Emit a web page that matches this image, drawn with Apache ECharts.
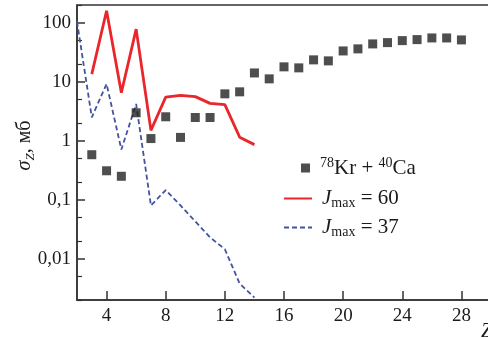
<!DOCTYPE html>
<html><head><meta charset="utf-8">
<script src="https://cdn.jsdelivr.net/npm/echarts@6/dist/echarts.min.js"></script>
<style>html,body{margin:0;padding:0;background:#fff}#c{width:488px;height:339px}</style>
</head><body><div id="c"></div>
<script>
// Experimental points: 78Kr + 40Ca
const zExp = [3,4,5,6,7,8,9,10,11,12,13,14,15,16,17,18,19,20,21,22,23,24,25,26,27,28];
const sigmaExp = [0.58,0.31,0.25,2.98,1.09,2.55,1.14,2.48,2.48,6.24,6.75,14.1,11.2,17.9,17.2,23.5,22.6,33.3,36.1,43.8,46.1,49.8,51.8,55.3,55.3,51.2];
// Calculation, J_max = 60
const zJ60 = [3,4,5,6,7,8,9,10,11,12,13,14];
const sigmaJ60 = [13.5,160,6.5,78,1.5,5.5,5.9,5.6,4.3,4.1,1.15,0.86];
// Calculation, J_max = 37
const zJ37 = [2,3,4,5,6,7,8,9,10,11,12,13,14];
const sigmaJ37 = [105,2.5,9.2,0.71,4.2,0.08,0.146,0.08,0.043,0.023,0.0145,0.0038,0.0022];
// Axis ticks
const xTicks = [4,8,12,16,20,24,28];
const yTicks = [0.01,0.1,1,10,100];
const yMinorTicks = [0.002,0.005,0.02,0.05,0.2,0.5,2,5,20,50,200];

const serif = '"Liberation Serif", "DejaVu Serif", serif';
const ink = '#1a1a1a';
const red = '#e8262b';
const blue = '#4353a0';

const pairs = (xs, ys) => xs.map((x, i) => [x, ys[i]]);

const mkRich = (fs) => ({
  n: {fontFamily: serif, fontSize: fs, color: ink, lineHeight: 24},
  i: {fontFamily: serif, fontSize: fs, fontStyle: 'italic', color: ink, lineHeight: 24},
  sup: {fontFamily: serif, fontSize: 14, color: ink, lineHeight: 14, verticalAlign: 'top'},
  sub: {fontFamily: serif, fontSize: 14, color: ink, lineHeight: 12, verticalAlign: 'bottom'},
  isub: {fontFamily: serif, fontSize: 13, fontStyle: 'italic', color: ink, lineHeight: 12, verticalAlign: 'bottom'}
});
const richAxis = mkRich(20);
const richLeg = mkRich(21);

const chart = echarts.init(document.getElementById('c'), null, {renderer: 'canvas'});
chart.setOption({
  animation: false,
  backgroundColor: '#fff',
  grid: {left: 77, right: -3, top: 5, bottom: 39, outerBoundsMode: 'none', containLabel: false,
    show: true, borderColor: '#333', borderWidth: 1.5, backgroundColor: 'transparent'},
  xAxis: {
    type: 'value', min: 2, max: 30,
    name: 'Z', nameLocation: 'end', nameGap: -10, nameMoveOverlap: false,
    nameTextStyle: {fontFamily: serif, fontSize: 20, fontStyle: 'italic', color: ink, verticalAlign: 'top', padding: [22, 0, 0, 0]},
    axisLine: {show: true, lineStyle: {color: '#333', width: 1.5}},
    axisTick: {show: true, inside: true, length: 9, customValues: xTicks, lineStyle: {color: '#333', width: 1.5}},
    axisLabel: {customValues: xTicks, margin: 7, fontFamily: serif, fontSize: 19, color: ink},
    splitLine: {show: false}
  },
  yAxis: [{
    type: 'log', logBase: 10, min: 0.002, max: 200,
    name: '{i|σ}{isub|Z}{n|, мб}', nameLocation: 'middle', nameGap: 40, nameMoveOverlap: false,
    nameTextStyle: {rich: richAxis, padding: [0, 0, 0, 14]},
    axisLine: {show: true, lineStyle: {color: '#333', width: 1.5}},
    axisTick: {show: true, inside: true, length: 8, customValues: yTicks, lineStyle: {color: '#333', width: 1.5}},
    axisLabel: {customValues: yTicks, margin: 6, fontFamily: serif, fontSize: 19, color: ink,
      formatter: v => String(v).replace('.', ',')},
    splitLine: {show: false}
  }, {
    type: 'log', logBase: 10, min: 0.002, max: 200, position: 'left',
    axisLine: {show: false},
    axisTick: {show: true, inside: true, length: 5, customValues: yMinorTicks, lineStyle: {color: '#333', width: 1.2}},
    axisLabel: {show: false},
    splitLine: {show: false}
  }],
  legend: [{
    data: ['exp'], left: 301, top: 156, itemWidth: 9, itemHeight: 9, padding: 0,
    formatter: () => '{sup|78}{n|Kr + }{sup|40}{n|Ca}',
    textStyle: {rich: richLeg, padding: [0, 0, 0, 5]}
  }, {
    data: ['j60'], left: 283, top: 188, itemWidth: 28, itemHeight: 12, padding: 0,
    itemStyle: {opacity: 0},
    formatter: () => '{i|J}{sub|max}{n| = 60}',
    textStyle: {rich: richLeg, padding: [0, 0, 0, 5]}
  }, {
    data: ['j37'], left: 283, top: 217, itemWidth: 28, itemHeight: 12, padding: 0,
    itemStyle: {opacity: 0},
    formatter: () => '{i|J}{sub|max}{n| = 37}',
    textStyle: {rich: richLeg, padding: [0, 0, 0, 5]}
  }],
  series: [{
    name: 'j60', type: 'line', data: pairs(zJ60, sigmaJ60), symbol: 'none',
    lineStyle: {color: red, width: 2.8}, itemStyle: {color: red}, z: 2
  }, {
    name: 'j37', type: 'line', data: pairs(zJ37, sigmaJ37), symbol: 'none',
    lineStyle: {color: blue, width: 1.8, type: [5, 3]}, itemStyle: {color: blue}, z: 2
  }, {
    name: 'exp', type: 'scatter', data: pairs(zExp, sigmaExp), symbol: 'rect', symbolSize: 9,
    itemStyle: {color: '#222'}, z: 3
  }]
});
</script>
</body></html>
